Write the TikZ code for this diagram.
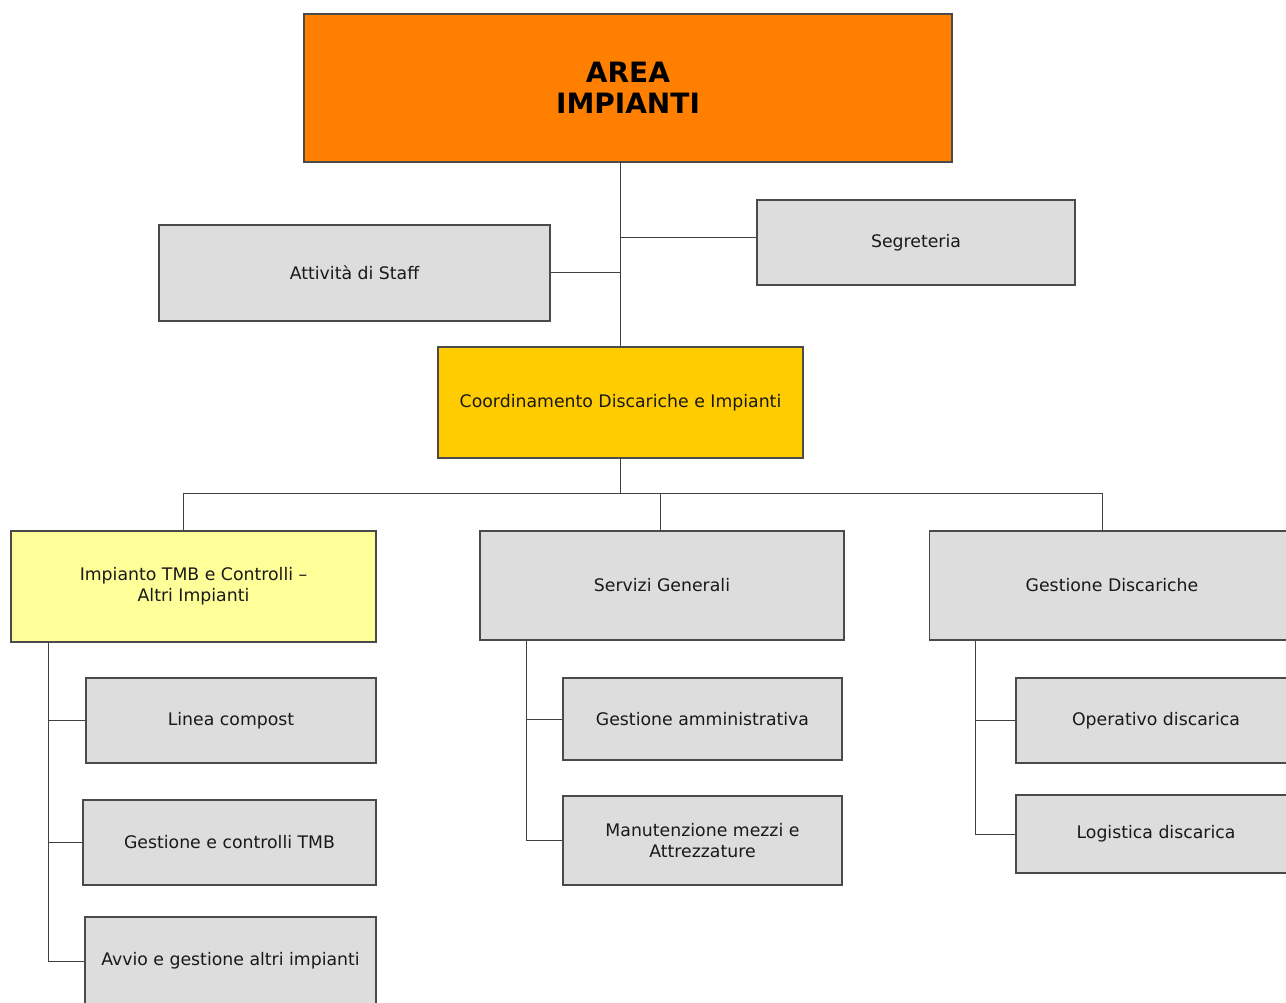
\documentclass[tikz,border=0pt]{standalone}
\usepackage{fontspec}
\setmainfont{DejaVu Sans}
\usepackage{tikz}
\usetikzlibrary{positioning}
\definecolor{orangebox}{HTML}{FF8000}
\definecolor{goldbox}{HTML}{FFCC00}
\definecolor{lightyellow}{HTML}{FFFF99}
\definecolor{greybox}{HTML}{DDDDDD}
\definecolor{edgegrey}{HTML}{4A4A4A}
\tikzset{
	box/.style={draw=edgegrey, line width=1.2pt, fill=greybox, align=center, inner sep=0pt, font=\fontsize{17.3}{21}\selectfont, text=black!90},
	link/.style={draw=black!75, line width=1pt},
}
\begin{document}
	\begin{tikzpicture}[x=1pt, y=-1pt]
	\useasboundingbox (0,0) rectangle (1286,1003);
	\node[box, fill=orangebox, minimum width=648pt, minimum height=148pt, font=\fontsize{28}{31}\selectfont\bfseries, text=black] (area) at (628,88) {AREA\\ IMPIANTI};
	\node[box, minimum width=318pt, minimum height=85pt] (segr) at (916,242.5) {Segreteria};
	\node[box, minimum width=391pt, minimum height=96pt] (staff) at (354.5,273) {Attività di Staff};
	\node[box, fill=goldbox, minimum width=365pt, minimum height=111pt] (coord) at (620.5,402.5) {Coordinamento Discariche e Impianti};
	\node[box, fill=lightyellow, minimum width=365pt, minimum height=111pt] (imp) at (193.5,586.5) {Impianto TMB e Controlli --\\ Altri Impianti};
	\node[box, minimum width=364pt, minimum height=109pt] (serv) at (662,585.5) {Servizi Generali};
	\node[box, minimum width=365pt, minimum height=109pt] (gest) at (1112,585.5) {Gestione Discariche};
	\node[box, minimum width=290pt, minimum height=85pt] (linea) at (231,720.5) {Linea compost};
	\node[box, minimum width=293pt, minimum height=85pt] (tmb) at (229.5,842.5) {Gestione e controlli TMB};
	\node[box, minimum width=291pt, minimum height=88pt] (avvio) at (230.5,961) {Avvio e gestione altri impianti};
	\node[box, minimum width=279pt, minimum height=82pt] (amm) at (702.5,719) {Gestione amministrativa};
	\node[box, minimum width=279pt, minimum height=89pt] (manut) at (702.5,840.5) {Manutenzione mezzi e\\ Attrezzature};
	\node[box, minimum width=280pt, minimum height=85pt] (oper) at (1156,720.5) {Operativo discarica};
	\node[box, minimum width=280pt, minimum height=78pt] (logi) at (1156,834) {Logistica discarica};
	\path[link]
	(coord.north) -- (coord.north |- area.south)
	(staff.east) -- (staff.east -| coord.north)
	([yshift=5pt]segr.west) -- ([yshift=5pt]segr.west -| coord.north);
	\coordinate (bus) at ([yshift=-35pt]coord.south);
	\path[link]
	(coord.south) -- (bus)
	([xshift=-10pt]imp.north) |- (bus) -| ([xshift=-10pt]gest.north)
	([xshift=-2pt]serv.north) -- ([xshift=-2pt]serv.north |- bus);
	\path[link]
	([xshift=38pt]imp.south west) |- (avvio.west)
	(linea.west) -- ++(-37,0)
	(tmb.west) -- ++(-34,0)
	([xshift=47pt]serv.south west) |- (manut.west)
	(amm.west) -- ++(-36,0)
	([xshift=47pt]gest.south west) |- (logi.west)
	(oper.west) -- ++(-39,0);
	\end{tikzpicture}
\end{document}
